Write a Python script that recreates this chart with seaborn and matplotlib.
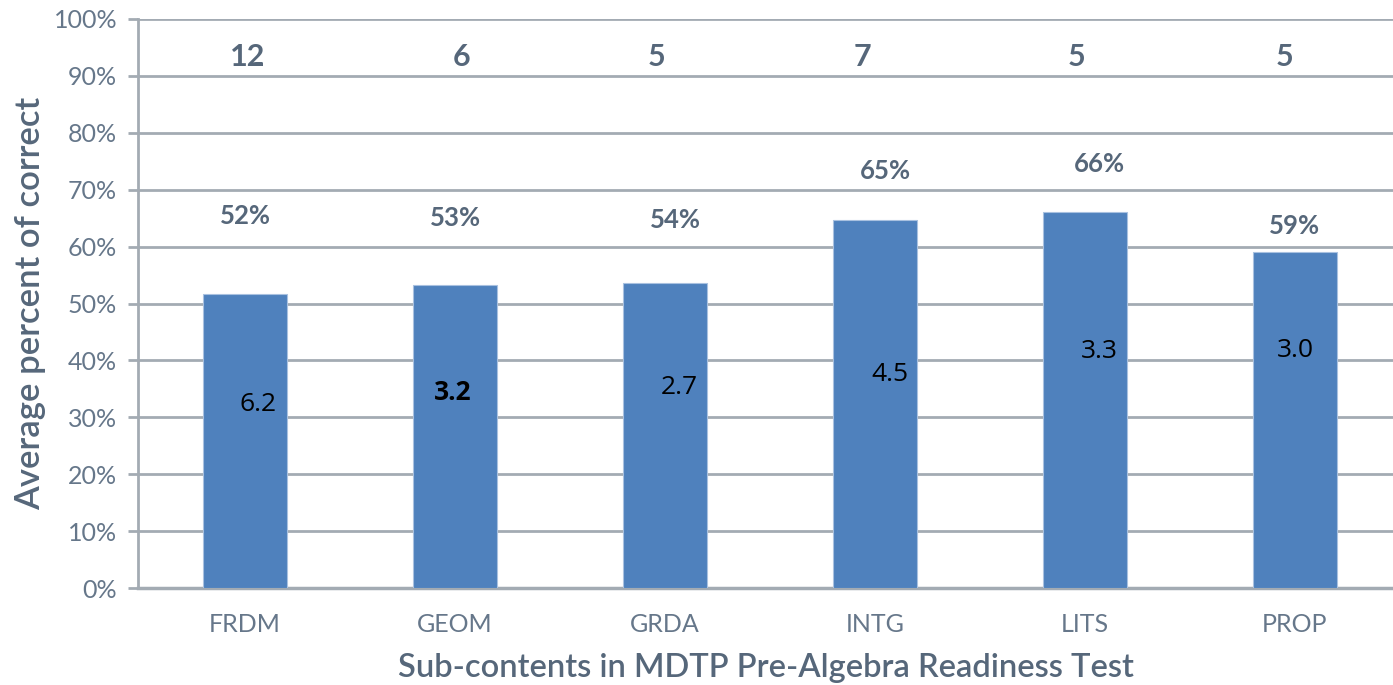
import matplotlib
matplotlib.use("Agg")
import matplotlib.pyplot as plt
import seaborn as sns
import pandas as pd
from matplotlib.ticker import PercentFormatter

# dados
categorias = ["FRDM", "GEOM", "GRDA", "INTG", "LITS", "PROP"]
percentual_correto = [51.7, 53.3, 53.6, 64.6, 66.1, 59.1]
rotulos_percentual = ["52%", "53%", "54%", "65%", "66%", "59%"]
num_itens = [12, 6, 5, 7, 5, 5]
media_pontos = ["6.2", "3.2", "2.7", "4.5", "3.3", "3.0"]

# posicoes dos rotulos (layout)
y_rotulo_pct = [65.4, 65.0, 64.7, 73.3, 74.5, 63.6]
dx_rotulo_pct = [0.0, 0.0, 0.05, 0.05, 0.07, 0.0]
y_media = [32.3, 34.4, 35.3, 37.6, 41.5, 41.8]
dx_media = [0.06, -0.01, 0.07, 0.07, 0.07, 0.0]
dx_itens = [0.01, 0.03, -0.04, -0.06, -0.04, -0.05]

df = pd.DataFrame({"categoria": categorias, "pct": percentual_correto})

sns.set_style("white")
plt.rcParams["font.family"] = ["Lato", "DejaVu Sans"]

cor_texto = "#56677a"
cor_tick = "#66778a"
cor_grade = "#a3abb3"

fig = plt.figure(figsize=(13.93, 6.85), dpi=100)
ax = fig.add_axes([138 / 1393, 1 - 588 / 685, (1393 - 138) / 1393, (588 - 19) / 685])

sns.barplot(data=df, x="categoria", y="pct", color="#4f81bd", saturation=1,
            width=0.4, edgecolor="#a9c1e0", linewidth=0.8, ax=ax, zorder=3)

ax.set_ylim(0, 100)
ax.set_xlim(-0.51, 5.467)
ax.set_yticks(range(0, 101, 10))
ax.yaxis.set_major_formatter(PercentFormatter(decimals=0))
ax.grid(axis="y", color=cor_grade, linewidth=2, zorder=0)
ax.set_axisbelow(True)

for lado in ["top", "right"]:
    ax.spines[lado].set_visible(False)
ax.spines["left"].set_color(cor_grade)
ax.spines["left"].set_linewidth(2)
ax.spines["bottom"].set_color(cor_grade)
ax.spines["bottom"].set_linewidth(2.5)

ax.tick_params(axis="y", length=7, width=2, color=cor_grade, pad=8,
               labelsize=18, labelcolor=cor_tick, left=True)
ax.tick_params(axis="x", length=0, pad=18, labelsize=18, labelcolor=cor_tick)

ax.set_xlabel("Sub-contents in MDTP Pre-Algebra Readiness Test", fontsize=23.5,
              fontweight="semibold", color=cor_texto, labelpad=12)
ax.set_ylabel("Average percent of correct", fontsize=25,
              fontweight="semibold", color=cor_texto)
ax.yaxis.set_label_coords(-0.073, 0.5)

for i in range(len(categorias)):
    ax.text(i + dx_itens[i], 93.3, str(num_itens[i]), ha="center", va="center",
            fontsize=22, fontweight="bold", color=cor_texto)
    ax.text(i + dx_rotulo_pct[i], y_rotulo_pct[i], rotulos_percentual[i],
            ha="center", va="center", fontsize=18.5, fontweight="bold", color=cor_texto)
    peso = "bold" if i == 1 else "normal"
    ax.text(i + dx_media[i], y_media[i], media_pontos[i], ha="center", va="center",
            fontsize=19, fontweight=peso, color="black", zorder=4,
            family=["Open Sans", "DejaVu Sans"])

fig.savefig("out.png", dpi=100)
plt.close(fig)
